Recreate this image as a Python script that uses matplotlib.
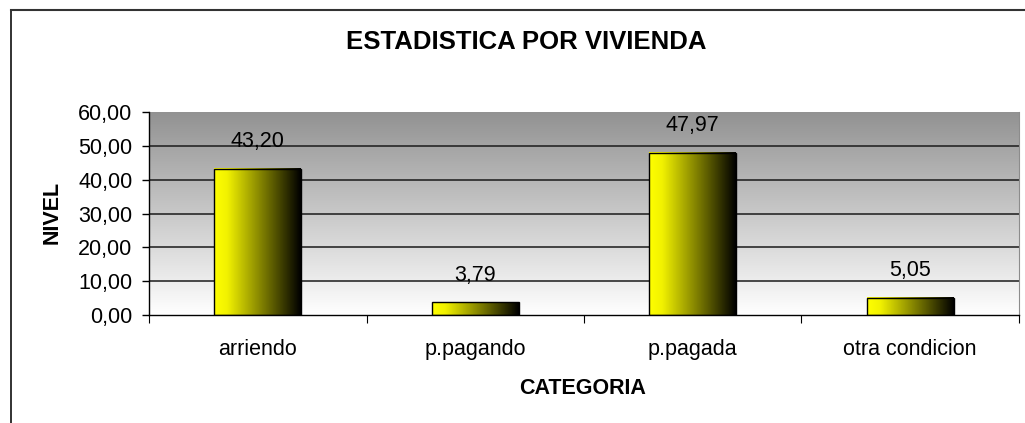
import numpy as np
import matplotlib
matplotlib.use("Agg")
import matplotlib.pyplot as plt
from matplotlib.colors import LinearSegmentedColormap
from matplotlib.ticker import FuncFormatter, MultipleLocator

plt.rcParams['font.family'] = ['Liberation Sans', 'DejaVu Sans']

# datos
categorias = ['arriendo', 'p.pagando', 'p.pagada', 'otra condicion']
valores = [43.20, 3.79, 47.97, 5.05]
titulo = 'ESTADISTICA POR VIVIENDA'
eje_x = 'CATEGORIA'
eje_y = 'NIVEL'

fig = plt.figure(figsize=(10.25, 4.23), dpi=100)
ax = fig.add_axes([0.1454, 0.2553, 0.8487, 0.4799])

x = np.arange(len(categorias))

# fondo degradado gris -> blanco
fondo = LinearSegmentedColormap.from_list('fondo', ['#ffffff', '#929292'])
grad = np.linspace(0, 1, 256).reshape(-1, 1)
ax.imshow(grad, cmap=fondo, origin='lower', aspect='auto',
          extent=(0, 1, 0, 1), transform=ax.transAxes, zorder=0)

for v in range(10, 60, 10):
    ax.axhline(v, color='#1a1a1a', lw=1.1, zorder=1)

# barras con degradado amarillo -> negro
barra = LinearSegmentedColormap.from_list('barra', [(0, '#ffff00'), (0.15, '#f2f200'), (1, '#000000')])
bars = ax.bar(x, valores, width=0.4, facecolor='none', edgecolor='black', lw=1, zorder=3)
g = np.linspace(0, 1, 256).reshape(1, -1)
for b in bars:
    x0, w, h = b.get_x(), b.get_width(), b.get_height()
    ax.imshow(g, cmap=barra, aspect='auto', extent=(x0, x0 + w, 0, h), zorder=2)

for xi, v in zip(x, valores):
    ax.annotate(f'{v:.2f}'.replace('.', ','), (xi, v), xytext=(0, 19.5),
                textcoords='offset points', ha='center', va='center', fontsize=15.5)

ax.set_xlim(-0.5, len(categorias) - 0.5)
ax.set_ylim(0, 60)

ax.yaxis.set_major_locator(MultipleLocator(10))
ax.yaxis.set_major_formatter(FuncFormatter(lambda v, p: f'{v:.2f}'.replace('.', ',')))
ax.tick_params(axis='y', length=5, width=1, pad=7, labelsize=15.5)

ax.set_xticks(np.arange(-0.5, len(categorias)), labels=[])
ax.set_xticks(x, labels=categorias, minor=True)
ax.tick_params(axis='x', which='major', length=6, width=0.8)
ax.tick_params(axis='x', which='minor', length=0, pad=17, labelsize=15.5)

ax.spines['top'].set_visible(False)
ax.spines['right'].set_color('#8c8c8c')
ax.spines['left'].set_linewidth(1)
ax.spines['bottom'].set_linewidth(1)

fig.text(526 / 1025, 1 - 42 / 423, titulo, ha='center', va='center',
         fontsize=18.5, weight='bold')
fig.text(583 / 1025, 1 - 388 / 423, eje_x, ha='center', va='center',
         fontsize=15.5, weight='bold')
fig.text(52 / 1025, 1 - 212 / 423, eje_y, ha='center', va='center',
         fontsize=15.5, weight='bold', rotation=90)

# borde del grafico
fig.add_artist(plt.Line2D([11 / 1025, 11 / 1025], [0, 1 - 10.5 / 423],
                          transform=fig.transFigure, color='#222222', lw=1.3))
fig.add_artist(plt.Line2D([11 / 1025, 1], [1 - 10.5 / 423, 1 - 10.5 / 423],
                          transform=fig.transFigure, color='#333333', lw=1.5))

fig.savefig('out.png', dpi=100)
